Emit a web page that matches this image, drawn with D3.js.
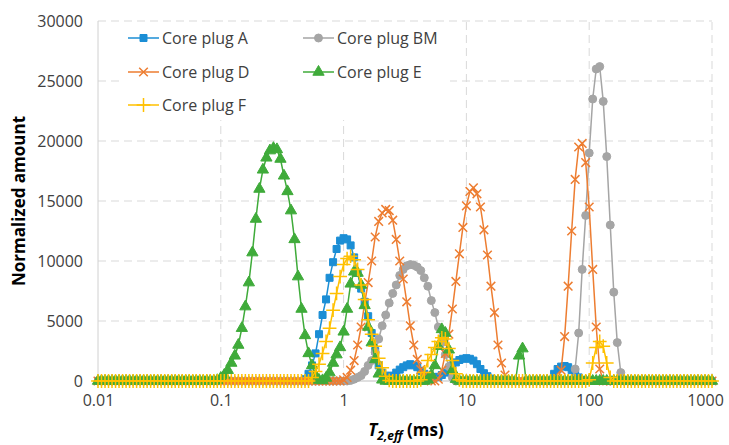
<!DOCTYPE html>
<html>
<head>
<meta charset="utf-8">
<script src="https://cdn.jsdelivr.net/npm/d3@7"></script>
<style>
  body { margin: 0; background: #fff; }
  svg { font-family: "Open Sans", sans-serif; }
</style>
</head>
<body>
<svg width="729" height="445"></svg>
<script>
// T2 bins (ms): log spaced, 35 per decade from 0.01 to 1000
var t2 = d3.range(176).map(function(i) { return 0.01 * Math.pow(10, i / 35); });

var xTicks = [0.01, 0.1, 1, 10, 100, 1000];
var yTicks = [0, 5000, 10000, 15000, 20000, 25000, 30000];

// amplitudes, one per T2 bin (16 per row)
var coreA = [
  0,0,0,0,0,0,0,0,0,0,0,0,0,0,0,0,
  0,0,0,0,0,0,0,0,0,0,0,0,0,0,0,0,
  0,0,0,0,0,0,0,0,0,0,0,0,0,0,0,0,
  0,0,0,0,0,0,0,0,0,0,0,150,600,1300,2300,3900,
  5500,6800,8600,9900,11000,11700,11900,11800,11300,10300,9000,7700,6600,5400,4000,2500,
  1300,700,450,350,450,700,950,1150,1300,1400,1300,1150,850,600,400,300,
  300,350,500,700,1000,1300,1550,1750,1850,1900,1850,1700,1400,1000,650,400,
  200,80,0,0,0,0,0,0,0,0,0,0,0,0,0,0,
  0,0,600,1000,1200,1250,1150,900,650,300,50,0,0,0,0,0,
  0,0,0,0,0,0,0,0,0,0,0,0,0,0,0,0,
  0,0,0,0,0,0,0,0,0,0,0,0,0,0,0,0
];
var coreBM = [
  0,0,0,0,0,0,0,0,0,0,0,0,0,0,0,0,
  0,0,0,0,0,0,0,0,0,0,0,0,0,0,0,0,
  0,0,0,0,0,0,0,0,0,0,0,0,0,0,0,0,
  0,0,0,0,0,0,0,0,0,0,0,0,0,0,0,0,
  0,0,0,0,0,0,0,0,50,150,300,450,800,1300,1700,2400,
  3500,4600,5500,6500,7300,8000,8800,9300,9600,9700,9650,9500,9200,8600,7900,6700,
  5700,4500,3200,2200,1200,300,0,0,0,0,0,0,0,0,0,0,
  0,0,0,0,0,0,0,0,0,0,0,0,0,0,0,0,
  0,0,0,0,0,0,0,0,1000,4000,9300,13800,19000,23500,26000,26200,
  23300,18700,13000,7400,3200,700,0,0,0,0,0,0,0,0,0,0,
  0,0,0,0,0,0,0,0,0,0,0,0,0,0,0,0
];
var coreD = [
  0,0,0,0,0,0,0,0,0,0,0,0,0,0,0,0,
  0,0,0,0,0,0,0,0,0,0,0,0,0,0,0,0,
  0,0,0,0,0,0,0,0,0,0,0,0,0,0,0,0,
  0,0,0,0,0,0,0,0,0,0,0,0,0,0,0,0,
  0,0,0,0,0,0,100,300,900,1700,3000,4500,6500,8200,10000,12000,
  13300,14000,14300,14200,13400,11800,10000,8500,6600,4600,3000,1800,950,400,100,0,
  0,150,900,2300,3900,6000,8300,10600,12800,14600,15800,16100,15600,14500,12600,10500,
  7900,5700,3000,1500,500,100,0,0,0,0,0,0,0,0,0,0,
  0,0,0,200,900,3700,7900,12500,16800,19500,19800,18200,14500,9300,4500,1000,
  0,0,0,0,0,0,0,0,0,0,0,0,0,0,0,0,
  0,0,0,0,0,0,0,0,0,0,0,0,0,0,0,0
];
var coreE = [
  0,0,0,0,0,0,0,0,0,0,0,0,0,0,0,0,
  0,0,0,0,0,0,0,0,0,0,0,0,0,0,0,0,
  0,0,60,250,500,900,1500,2100,3000,4400,6200,8200,10700,13500,16000,17600,
  18600,19200,19400,19300,18500,17100,15800,14200,11800,8700,6000,3800,2300,1300,450,80,
  50,250,700,1500,2200,2800,4100,6000,8100,9100,9000,8000,6300,4500,3200,1800,
  600,100,0,0,0,0,0,0,0,0,0,0,0,0,100,500,
  1300,2900,4300,4000,2600,900,150,0,0,0,0,0,0,0,0,0,
  0,0,0,0,0,0,0,0,2100,2700,0,0,0,0,0,0,
  0,0,0,0,0,0,0,0,0,0,0,0,0,0,0,0,
  0,0,0,0,0,0,0,0,0,0,0,0,0,0,0,0,
  0,0,0,0,0,0,0,0,0,0,0,0,0,0,0,0
];
var coreF = [
  0,0,0,0,0,0,0,0,0,0,0,0,0,0,0,0,
  0,0,0,0,0,0,0,0,0,0,0,0,0,0,0,0,
  0,0,0,0,0,0,0,0,0,0,0,0,0,0,0,0,
  0,0,0,0,0,0,0,0,0,0,0,0,0,300,800,1400,
  2300,3300,4400,5900,7300,8700,9700,10200,10400,10100,9300,8000,6800,5100,3900,2900,
  1900,1100,400,50,0,0,0,0,0,0,0,0,100,700,1700,2200,
  2800,3300,3600,3500,2700,1700,600,100,0,0,0,0,0,0,0,0,
  0,0,0,0,0,0,0,0,0,0,0,0,0,0,0,0,
  0,0,0,0,0,0,0,0,0,0,0,0,100,1500,2800,3300,
  2900,1500,300,0,0,0,0,0,0,0,0,0,0,0,0,0,
  0,0,0,0,0,0,0,0,0,0,0,0,0,0,0,0
];

var series = [
  {name: "Core plug A",  values: coreA,  color: "#1b8ed5", sym: d3.symbolSquare,   size: 49, fill: true},
  {name: "Core plug BM", values: coreBM, color: "#a5a5a5", sym: d3.symbolCircle,   size: 50, fill: true},
  {name: "Core plug D",  values: coreD,  color: "#ed7d31", sym: d3.symbolTimes,    size: 50, fill: false},
  {name: "Core plug E",  values: coreE,  color: "#3fab3a", sym: d3.symbolTriangle, size: 55, fill: true},
  {name: "Core plug F",  values: coreF,  color: "#ffc000", sym: d3.symbolPlus,     size: 64, fill: false}
];

var svg = d3.select("svg");

var x = d3.scaleLog().domain([0.01, 1000]).range([98, 712]);
var y = d3.scaleLinear().domain([0, 30000]).range([381, 21]);

// gridlines
svg.append("g").selectAll("line").data(yTicks.slice(1)).join("line")
    .attr("x1", x(0.01)).attr("x2", x(1000))
    .attr("y1", d => y(d)).attr("y2", d => y(d))
    .attr("stroke", "#d9d9d9").attr("stroke-dasharray", "8,5");
svg.append("g").selectAll("line").data(xTicks.slice(1)).join("line")
    .attr("x1", d => x(d)).attr("x2", d => x(d))
    .attr("y1", y(0)).attr("y2", y(30000))
    .attr("stroke", "#d9d9d9").attr("stroke-dasharray", "8,5");
svg.append("line")
    .attr("x1", x(0.01)).attr("x2", x(0.01)).attr("y1", y(0)).attr("y2", y(30000))
    .attr("stroke", "#d0d0d0");
svg.append("line")
    .attr("x1", x(0.01)).attr("x2", x(1000)).attr("y1", y(0)).attr("y2", y(0))
    .attr("stroke", "#bfbfbf");

// axes (labels only)
var xAxis = svg.append("g")
    .attr("transform", "translate(0," + y(0) + ")")
    .call(d3.axisBottom(x).tickValues(xTicks).tickFormat(d3.format("~g")).tickSize(0).tickPadding(14));
var yAxis = svg.append("g")
    .attr("transform", "translate(" + x(0.01) + ",0)")
    .call(d3.axisLeft(y).tickValues(yTicks).tickFormat(d3.format("d")).tickSize(0).tickPadding(15));
[xAxis, yAxis].forEach(function(a) {
  a.select(".domain").remove();
  a.selectAll("text").attr("font-size", 16).attr("fill", "#404040")
      .attr("font-family", "'Open Sans', sans-serif");
});
// keep the last label inside the window
xAxis.selectAll(".tick").filter(d => d === 1000).select("text").attr("dx", -7);

// legend background hides gridlines under it
svg.append("rect").attr("x", 120).attr("y", 22).attr("width", 330).attr("height", 98).attr("fill", "#fff");

// series
var line = d3.line()
    .x(function(d, i) { return x(t2[i]); })
    .y(function(d) { return y(d); });

function marker(g, s) {
  g.attr("d", d3.symbol(s.sym, s.size))
    .attr("fill", s.fill ? s.color : "none")
    .attr("stroke", s.color)
    .attr("stroke-width", s.fill ? 1 : 1.5);
}

series.forEach(function(s) {
  var g = svg.append("g");
  g.append("path")
      .datum(s.values)
      .attr("fill", "none")
      .attr("stroke", s.color)
      .attr("stroke-width", 1.5)
      .attr("stroke-linejoin", "round")
      .attr("d", line);
  g.selectAll("path.m").data(s.values).join("path")
      .attr("class", "m")
      .attr("transform", function(d, i) { return "translate(" + x(t2[i]) + "," + y(d) + ")"; })
      .call(marker, s);
});

// legend
var legPos = [[128, 38], [303, 38], [128, 72], [303, 72], [128, 105]];
series.forEach(function(s, i) {
  var p = legPos[i];
  var lg = svg.append("g").attr("transform", "translate(" + p[0] + "," + p[1] + ")");
  lg.append("line").attr("x1", 0).attr("x2", 31).attr("stroke", s.color).attr("stroke-width", 1.5);
  lg.append("path").attr("transform", "translate(15.5,0)").call(marker, s);
  lg.append("text").attr("x", 34).attr("y", 6)
      .attr("font-size", 16).attr("fill", "#404040").text(s.name);
});

// axis titles
svg.append("text")
    .attr("transform", "translate(25,201) rotate(-90)")
    .attr("text-anchor", "middle")
    .attr("font-size", 17).attr("font-weight", "bold").attr("fill", "#000")
    .text("Normalized amount");

var xt = svg.append("text")
    .attr("x", 406).attr("y", 436)
    .attr("text-anchor", "middle")
    .attr("font-size", 17).attr("font-weight", "bold").attr("fill", "#000");
xt.append("tspan").attr("font-style", "italic").text("T");
xt.append("tspan").attr("font-style", "italic").attr("font-size", 12).attr("dy", 4).text("2,eff");
xt.append("tspan").attr("dy", -4).text(" (ms)");
</script>
</body>
</html>
